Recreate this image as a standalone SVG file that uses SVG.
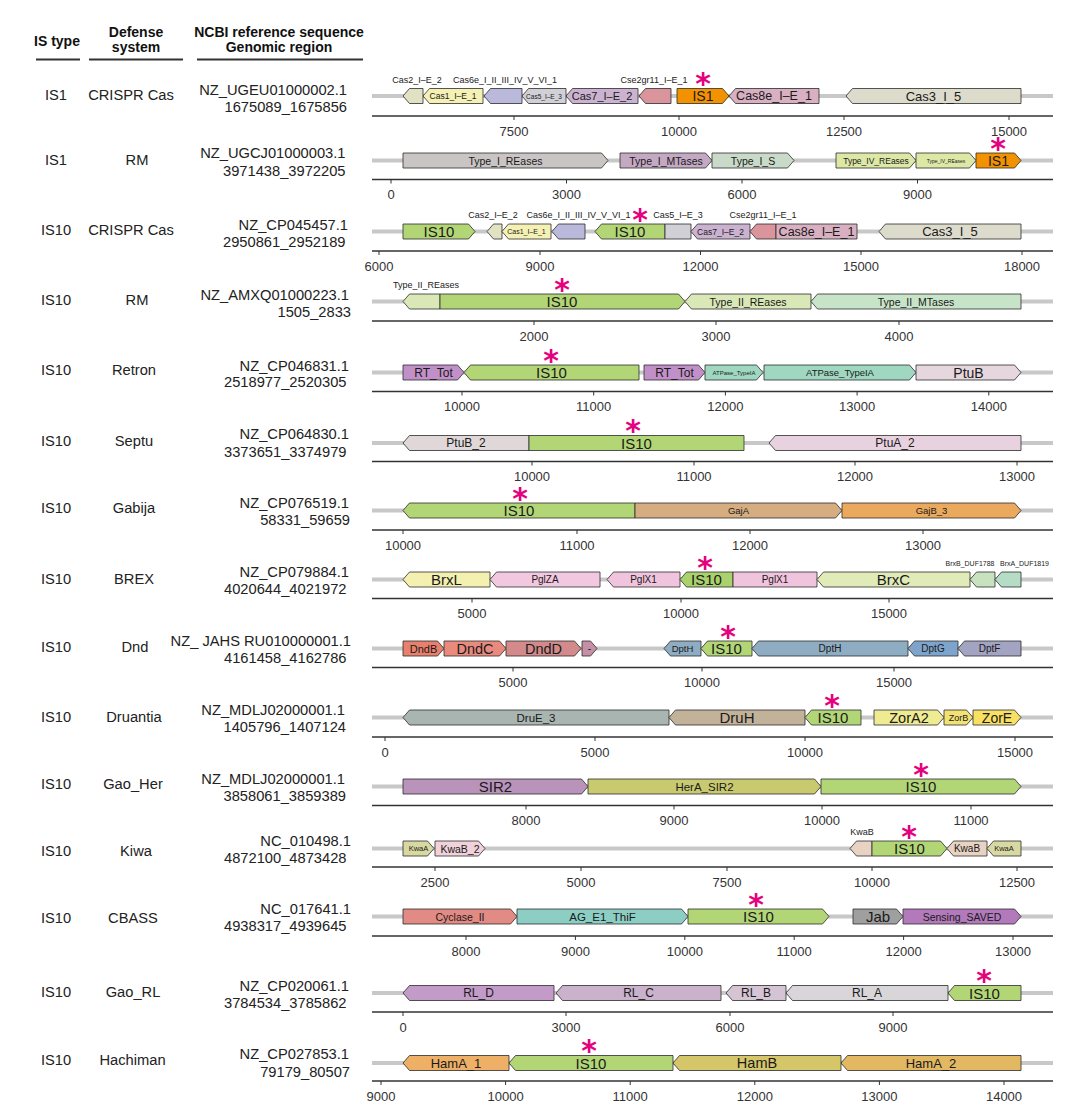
<svg xmlns="http://www.w3.org/2000/svg" width="1080" height="1114" viewBox="0 0 1080 1114">
<style>
text{font-family:"Liberation Sans",Arial,sans-serif}
.bb{stroke:#c8c8c8;stroke-width:4}
.ax{stroke:#333;stroke-width:1.6}
.tk{stroke:#333;stroke-width:1;fill:none}
.tl{font-size:13px;fill:#333;text-anchor:middle}
.gn polygon{stroke:#2b2b2b;stroke-width:0.8}
.lb{text-anchor:middle;dominant-baseline:central;fill:#1a1a1a}
.ab{font-size:9px;fill:#222;text-anchor:middle}
.ab6{font-size:7px;fill:#222;text-anchor:middle}
.as{font-family:"DejaVu Sans",sans-serif;font-weight:bold;font-size:30px;fill:#e5007e;text-anchor:middle}
.lt{font-size:14.7px;fill:#222}
.c1{text-anchor:middle}
.c3{text-anchor:end}
.hd{font-size:14px;font-weight:bold;fill:#111;text-anchor:middle}
.hl{stroke:#333;stroke-width:2}
</style>
<rect width="1080" height="1114" fill="#fff"/>

<g id="header">
<text class="hd" x="57" y="46">IS type</text>
<text class="hd" x="136" y="36.5">Defense</text>
<text class="hd" x="136" y="51.5">system</text>
<text class="hd" x="279" y="36.5">NCBI reference sequence</text>
<text class="hd" x="279" y="51.5">Genomic region</text>
<line class="hl" x1="36" y1="59.5" x2="80" y2="59.5"/>
<line class="hl" x1="89" y1="59.5" x2="183" y2="59.5"/>
<line class="hl" x1="197" y1="59.5" x2="363" y2="59.5"/>
</g>

<g id="left-columns" class="lt">
<text class="c1" x="56" y="100">IS1</text><text class="c1" x="131" y="100">CRISPR Cas</text><text class="c3" x="347" y="95">NZ_UGEU01000002.1</text><text class="c3" x="347" y="111.7">1675089_1675856</text>
<text class="c1" x="56" y="165">IS1</text><text class="c1" x="137" y="165">RM</text><text class="c3" x="345.5" y="158.3">NZ_UGCJ01000003.1</text><text class="c3" x="345.5" y="175.7">3971438_3972205</text>
<text class="c1" x="56" y="235">IS10</text><text class="c1" x="131" y="235">CRISPR Cas</text><text class="c3" x="348" y="230">NZ_CP045457.1</text><text class="c3" x="345.5" y="246.7">2950861_2952189</text>
<text class="c1" x="56" y="305">IS10</text><text class="c1" x="137" y="305">RM</text><text class="c3" x="349" y="300">NZ_AMXQ01000223.1</text><text class="c3" x="351" y="316.7">1505_2833</text>
<text class="c1" x="56" y="375">IS10</text><text class="c1" x="134" y="375">Retron</text><text class="c3" x="349" y="370.7">NZ_CP046831.1</text><text class="c3" x="346.5" y="387">2518977_2520305</text>
<text class="c1" x="56" y="446">IS10</text><text class="c1" x="134" y="446">Septu</text><text class="c3" x="349" y="439.3">NZ_CP064830.1</text><text class="c3" x="346.5" y="456.7">3373651_3374979</text>
<text class="c1" x="56" y="513.3">IS10</text><text class="c1" x="134" y="513.3">Gabija</text><text class="c3" x="349" y="507.7">NZ_CP076519.1</text><text class="c3" x="350" y="525">58331_59659</text>
<text class="c1" x="56" y="584">IS10</text><text class="c1" x="134" y="584">BREX</text><text class="c3" x="349" y="577.3">NZ_CP079884.1</text><text class="c3" x="346.5" y="594.3">4020644_4021972</text>
<text class="c1" x="56" y="651.7">IS10</text><text class="c1" x="135" y="651.7">Dnd</text><text class="c3" x="351" y="646">NZ_ JAHS RU010000001.1</text><text class="c3" x="346.5" y="663.3">4161458_4162786</text>
<text class="c1" x="56" y="721.7">IS10</text><text class="c1" x="134" y="721.7">Druantia</text><text class="c3" x="345" y="715">NZ_MDLJ02000001.1</text><text class="c3" x="346" y="732.3">1405796_1407124</text>
<text class="c1" x="56" y="789">IS10</text><text class="c1" x="133" y="789">Gao_Her</text><text class="c3" x="345" y="784">NZ_MDLJ02000001.1</text><text class="c3" x="346" y="801">3858061_3859389</text>
<text class="c1" x="56" y="855.7">IS10</text><text class="c1" x="136" y="855.7">Kiwa</text><text class="c3" x="351" y="845.7">NC_010498.1</text><text class="c3" x="346.5" y="862.7">4872100_4873428</text>
<text class="c1" x="56" y="923.3">IS10</text><text class="c1" x="133" y="923.3">CBASS</text><text class="c3" x="351" y="914">NC_017641.1</text><text class="c3" x="346.5" y="931">4938317_4939645</text>
<text class="c1" x="56" y="997.3">IS10</text><text class="c1" x="133" y="997.3">Gao_RL</text><text class="c3" x="349" y="991">NZ_CP020061.1</text><text class="c3" x="346.5" y="1008">3784534_3785862</text>
<text class="c1" x="56" y="1065">IS10</text><text class="c1" x="132.5" y="1065">Hachiman</text><text class="c3" x="349" y="1059.3">NZ_CP027853.1</text><text class="c3" x="350" y="1076.7">79179_80507</text>
</g>

<g id="connectors">
<line class="bb" x1="372" y1="96" x2="1053" y2="96"/>
<line class="bb" x1="372" y1="160.5" x2="1053" y2="160.5"/>
<line class="bb" x1="372" y1="231.5" x2="1053" y2="231.5"/>
<line class="bb" x1="372" y1="301.5" x2="1053" y2="301.5"/>
<line class="bb" x1="372" y1="372.5" x2="1053" y2="372.5"/>
<line class="bb" x1="372" y1="443" x2="1053" y2="443"/>
<line class="bb" x1="372" y1="510.5" x2="1053" y2="510.5"/>
<line class="bb" x1="372" y1="579.5" x2="1053" y2="579.5"/>
<line class="bb" x1="372" y1="648.5" x2="1053" y2="648.5"/>
<line class="bb" x1="372" y1="717.5" x2="1053" y2="717.5"/>
<line class="bb" x1="372" y1="786.5" x2="1053" y2="786.5"/>
<line class="bb" x1="372" y1="848.5" x2="1053" y2="848.5"/>
<line class="bb" x1="372" y1="916.5" x2="1053" y2="916.5"/>
<line class="bb" x1="372" y1="993" x2="1053" y2="993"/>
<line class="bb" x1="372" y1="1063" x2="1053" y2="1063"/>
</g>

<g id="axes">
<line class="ax" x1="372" y1="116" x2="1053" y2="116"/><path class="tk" d="M514 116v4M679 116v4M844 116v4M1009 116v4"/>
<text class="tl" x="514" y="135.5">7500</text><text class="tl" x="679" y="135.5">10000</text><text class="tl" x="844" y="135.5">12500</text><text class="tl" x="1009" y="135.5">15000</text>
<line class="ax" x1="372" y1="179.5" x2="1053" y2="179.5"/><path class="tk" d="M391 179.5v4M566.5 179.5v4M742 179.5v4M917.5 179.5v4"/>
<text class="tl" x="391" y="199">0</text><text class="tl" x="566.5" y="199">3000</text><text class="tl" x="742" y="199">6000</text><text class="tl" x="917.5" y="199">9000</text>
<line class="ax" x1="372" y1="251" x2="1053" y2="251"/><path class="tk" d="M379 251v4M540 251v4M700.5 251v4M861 251v4M1022 251v4"/>
<text class="tl" x="379" y="270.5">6000</text><text class="tl" x="540" y="270.5">9000</text><text class="tl" x="700.5" y="270.5">12000</text><text class="tl" x="861" y="270.5">15000</text><text class="tl" x="1022" y="270.5">18000</text>
<line class="ax" x1="372" y1="321" x2="1053" y2="321"/><path class="tk" d="M534 321v4M716 321v4M899 321v4"/>
<text class="tl" x="534" y="340.5">2000</text><text class="tl" x="716" y="340.5">3000</text><text class="tl" x="899" y="340.5">4000</text>
<line class="ax" x1="372" y1="391.5" x2="1053" y2="391.5"/><path class="tk" d="M462 391.5v4M593.7 391.5v4M725.4 391.5v4M857.1 391.5v4M988.8 391.5v4"/>
<text class="tl" x="462" y="411">10000</text><text class="tl" x="593.7" y="411">11000</text><text class="tl" x="725.4" y="411">12000</text><text class="tl" x="857.1" y="411">13000</text><text class="tl" x="988.8" y="411">14000</text>
<line class="ax" x1="372" y1="461.5" x2="1053" y2="461.5"/><path class="tk" d="M532 461.5v4M694 461.5v4M855 461.5v4M1017 461.5v4"/>
<text class="tl" x="532" y="481">10000</text><text class="tl" x="694" y="481">11000</text><text class="tl" x="855" y="481">12000</text><text class="tl" x="1017" y="481">13000</text>
<line class="ax" x1="372" y1="530" x2="1053" y2="530"/><path class="tk" d="M403 530v4M577 530v4M750 530v4M923 530v4"/>
<text class="tl" x="403" y="549.5">10000</text><text class="tl" x="577" y="549.5">11000</text><text class="tl" x="750" y="549.5">12000</text><text class="tl" x="923" y="549.5">13000</text>
<line class="ax" x1="372" y1="598.5" x2="1053" y2="598.5"/><path class="tk" d="M472 598.5v4M681 598.5v4M889 598.5v4"/>
<text class="tl" x="472" y="618">5000</text><text class="tl" x="681" y="618">10000</text><text class="tl" x="889" y="618">15000</text>
<line class="ax" x1="372" y1="667.5" x2="1053" y2="667.5"/><path class="tk" d="M513 667.5v4M702 667.5v4M894 667.5v4"/>
<text class="tl" x="513" y="687">5000</text><text class="tl" x="702" y="687">10000</text><text class="tl" x="894" y="687">15000</text>
<line class="ax" x1="372" y1="737" x2="1053" y2="737"/><path class="tk" d="M385 737v4M595 737v4M805 737v4M1015 737v4"/>
<text class="tl" x="385" y="756.5">0</text><text class="tl" x="595" y="756.5">5000</text><text class="tl" x="805" y="756.5">10000</text><text class="tl" x="1015" y="756.5">15000</text>
<line class="ax" x1="372" y1="805.5" x2="1053" y2="805.5"/><path class="tk" d="M526 805.5v4M674 805.5v4M822 805.5v4M971 805.5v4"/>
<text class="tl" x="526" y="825">8000</text><text class="tl" x="674" y="825">9000</text><text class="tl" x="822" y="825">10000</text><text class="tl" x="971" y="825">11000</text>
<line class="ax" x1="372" y1="867" x2="1053" y2="867"/><path class="tk" d="M435 867v4M581 867v4M727 867v4M872 867v4M1017 867v4"/>
<text class="tl" x="435" y="886.5">2500</text><text class="tl" x="581" y="886.5">5000</text><text class="tl" x="727" y="886.5">7500</text><text class="tl" x="872" y="886.5">10000</text><text class="tl" x="1017" y="886.5">12500</text>
<line class="ax" x1="372" y1="936" x2="1053" y2="936"/><path class="tk" d="M466 936v4M575.4 936v4M684.8 936v4M794.2 936v4M903.6 936v4M1013 936v4"/>
<text class="tl" x="466" y="955.5">8000</text><text class="tl" x="575.4" y="955.5">9000</text><text class="tl" x="684.8" y="955.5">10000</text><text class="tl" x="794.2" y="955.5">11000</text><text class="tl" x="903.6" y="955.5">12000</text><text class="tl" x="1013" y="955.5">13000</text>
<line class="ax" x1="372" y1="1012" x2="1053" y2="1012"/><path class="tk" d="M403 1012v4M566 1012v4M730 1012v4M893 1012v4"/>
<text class="tl" x="403" y="1031.5">0</text><text class="tl" x="566" y="1031.5">3000</text><text class="tl" x="730" y="1031.5">6000</text><text class="tl" x="893" y="1031.5">9000</text>
<line class="ax" x1="372" y1="1081" x2="1053" y2="1081"/><path class="tk" d="M381 1081v4M505.6 1081v4M630.2 1081v4M754.8 1081v4M879.4 1081v4M1004 1081v4"/>
<text class="tl" x="381" y="1100.5">9000</text><text class="tl" x="505.6" y="1100.5">10000</text><text class="tl" x="630.2" y="1100.5">11000</text><text class="tl" x="754.8" y="1100.5">12000</text><text class="tl" x="879.4" y="1100.5">13000</text><text class="tl" x="1004" y="1100.5">14000</text>
</g>

<g id="row1" class="gn">
<g id="r1-cas2"><polygon fill="#e1e2c3" points="423,88.5 409.5,88.5 403,96 409.5,103.5 423,103.5"/></g>
<g id="r1-cas1"><polygon fill="#f5f0b4" points="483,88.5 429.5,88.5 423,96 429.5,103.5 483,103.5"/><text class="lb" x="453" y="96" font-size="8.5">Cas1_I–E_1</text></g>
<g id="r1-cas6e"><polygon fill="#bab9dc" points="522,88.5 490.5,88.5 484,96 490.5,103.5 522,103.5"/></g>
<g id="r1-cas5"><polygon fill="#d0d0d6" points="566,88.5 528.5,88.5 522,96 528.5,103.5 566,103.5"/><text class="lb" x="544" y="96" font-size="6.5">Cas5_I–E_3</text></g>
<g id="r1-cas7"><polygon fill="#ccb2d1" points="638,88.5 572.5,88.5 566,96 572.5,103.5 638,103.5"/><text class="lb" x="602" y="96" font-size="11">Cas7_I–E_2</text></g>
<g id="r1-cse2"><polygon fill="#da949b" points="671,88.5 645.5,88.5 639,96 645.5,103.5 671,103.5"/></g>
<g id="r1-is1"><polygon fill="#f39200" points="677,88.5 722.5,88.5 729,96 722.5,103.5 677,103.5"/><text class="lb" x="703" y="96" font-size="14">IS1</text></g>
<g id="r1-cas8e"><polygon fill="#d8b0c2" points="819,88.5 735.5,88.5 729,96 735.5,103.5 819,103.5"/><text class="lb" x="774" y="96" font-size="12.5">Cas8e_I–E_1</text></g>
<g id="r1-cas3"><polygon fill="#dcdbcc" points="1021,88.5 852.5,88.5 846,96 852.5,103.5 1021,103.5"/><text class="lb" x="933.5" y="96" font-size="13">Cas3_I_5</text></g>
<text class="ab" x="417" y="83">Cas2_I–E_2</text>
<text class="ab" x="505" y="83">Cas6e_I_II_III_IV_V_VI_1</text>
<text class="ab" x="654" y="83">Cse2gr11_I–E_1</text>
<text class="as" x="703" y="94">*</text>
</g>

<g id="row2" class="gn">
<g id="r2-t1re"><polygon fill="#cac5c5" points="403,153 601.5,153 608,160.5 601.5,168 403,168"/><text class="lb" x="505.5" y="160.5" font-size="10.5">Type_I_REases</text></g>
<g id="r2-t1mt"><polygon fill="#c4a9c3" points="620,153 705.5,153 712,160.5 705.5,168 620,168"/><text class="lb" x="666" y="160.5" font-size="10.5">Type_I_MTases</text></g>
<g id="r2-t1s"><polygon fill="#c9dac8" points="712,153 787.5,153 794,160.5 787.5,168 712,168"/><text class="lb" x="753" y="160.5" font-size="10.5">Type_I_S</text></g>
<g id="r2-t4re"><polygon fill="#dde8a6" points="836,153 909.5,153 916,160.5 909.5,168 836,168"/><text class="lb" x="876" y="160.5" font-size="8.5">Type_IV_REases</text></g>
<g id="r2-t4re2"><polygon fill="#dde8a6" points="916,153 969.5,153 976,160.5 969.5,168 916,168"/><text class="lb" x="946" y="160.5" font-size="5">Type_IV_REases</text></g>
<g id="r2-is1"><polygon fill="#f39200" points="976,153 1014.5,153 1021,160.5 1014.5,168 976,168"/><text class="lb" x="998.5" y="160.5" font-size="14">IS1</text></g>
<text class="as" x="998" y="158.5">*</text>
</g>

<g id="row3" class="gn">
<g id="r3-is10a"><polygon fill="#b2d676" points="403,224 468.5,224 475,231.5 468.5,239 403,239"/><text class="lb" x="439" y="231.5" font-size="15">IS10</text></g>
<g id="r3-cas2"><polygon fill="#e1e2c3" points="502,224 493.5,224 487,231.5 493.5,239 502,239"/></g>
<g id="r3-cas1"><polygon fill="#f5f0b4" points="551,224 508.5,224 502,231.5 508.5,239 551,239"/><text class="lb" x="526.5" y="231.5" font-size="7">Cas1_I–E_1</text></g>
<g id="r3-cas6e"><polygon fill="#bab9dc" points="585,224 558.5,224 552,231.5 558.5,239 585,239"/></g>
<g id="r3-is10b"><polygon fill="#b2d676" points="665,224 601.5,224 595,231.5 601.5,239 665,239"/><text class="lb" x="630" y="231.5" font-size="15">IS10</text></g>
<g id="r3-cas5"><polygon fill="#d0d0d6" points="665,224 691,224 691,239 665,239"/></g>
<g id="r3-cas7"><polygon fill="#ccb2d1" points="750,224 697.5,224 691,231.5 697.5,239 750,239"/><text class="lb" x="720.5" y="231.5" font-size="8.5">Cas7_I–E_2</text></g>
<g id="r3-cse2"><polygon fill="#da949b" points="776,224 756.5,224 750,231.5 756.5,239 776,239"/></g>
<g id="r3-cas8e"><polygon fill="#d8b0c2" points="776,224 857,224 857,239 776,239"/><text class="lb" x="816.5" y="231.5" font-size="12.5">Cas8e_I–E_1</text></g>
<g id="r3-cas3"><polygon fill="#dcdbcc" points="1021,224 885.5,224 879,231.5 885.5,239 1021,239"/><text class="lb" x="950" y="231.5" font-size="13">Cas3_I_5</text></g>
<text class="ab" x="493" y="218">Cas2_I–E_2</text>
<text class="ab" x="578.5" y="218">Cas6e_I_II_III_IV_V_VI_1</text>
<text class="ab" x="678" y="218">Cas5_I–E_3</text>
<text class="ab" x="763" y="218">Cse2gr11_I–E_1</text>
<text class="as" x="640" y="229.5">*</text>
</g>

<g id="row4" class="gn">
<g id="r4-t2re-a"><polygon fill="#d9e8b6" points="440,294 409.5,294 403,301.5 409.5,309 440,309"/></g>
<g id="r4-is10"><polygon fill="#b2d676" points="440,294 678.5,294 685,301.5 678.5,309 440,309"/><text class="lb" x="562" y="301.5" font-size="15">IS10</text></g>
<g id="r4-t2re"><polygon fill="#d9e8b6" points="811,294 691.5,294 685,301.5 691.5,309 811,309"/><text class="lb" x="748" y="301.5" font-size="10.5">Type_II_REases</text></g>
<g id="r4-t2mt"><polygon fill="#c8e4c8" points="1021,294 817.5,294 811,301.5 817.5,309 1021,309"/><text class="lb" x="916" y="301.5" font-size="10.5">Type_II_MTases</text></g>
<text class="ab" x="426" y="288">Type_II_REases</text>
<text class="as" x="562" y="299.5">*</text>
</g>

<g id="row5" class="gn">
<g id="r5-rt1"><polygon fill="#c290c8" points="403,365 457.5,365 464,372.5 457.5,380 403,380"/><text class="lb" x="433.5" y="372.5" font-size="12">RT_Tot</text></g>
<g id="r5-is10"><polygon fill="#b2d676" points="639,365 470.5,365 464,372.5 470.5,380 639,380"/><text class="lb" x="551.5" y="372.5" font-size="15">IS10</text></g>
<g id="r5-rt2"><polygon fill="#c290c8" points="644,365 698.5,365 705,372.5 698.5,380 644,380"/><text class="lb" x="674.5" y="372.5" font-size="12">RT_Tot</text></g>
<g id="r5-atp1"><polygon fill="#9fd7c1" points="705,365 756.5,365 763,372.5 756.5,380 705,380"/><text class="lb" x="734" y="372.5" font-size="6">ATPase_TypeIA</text></g>
<g id="r5-atp2"><polygon fill="#9fd7c1" points="764,365 909.5,365 916,372.5 909.5,380 764,380"/><text class="lb" x="840" y="372.5" font-size="9.5">ATPase_TypeIA</text></g>
<g id="r5-ptub"><polygon fill="#e6d7df" points="916,365 1014.5,365 1021,372.5 1014.5,380 916,380"/><text class="lb" x="968.5" y="372.5" font-size="14">PtuB</text></g>
<text class="as" x="551" y="370.5">*</text>
</g>

<g id="row6" class="gn">
<g id="r6-ptub2"><polygon fill="#e0d8d8" points="529,435.5 409.5,435.5 403,443 409.5,450.5 529,450.5"/><text class="lb" x="466" y="443" font-size="12">PtuB_2</text></g>
<g id="r6-is10"><polygon fill="#b2d676" points="529,435.5 744,435.5 744,450.5 529,450.5"/><text class="lb" x="636.5" y="443" font-size="15">IS10</text></g>
<g id="r6-ptua2"><polygon fill="#e8d2e0" points="1021,435.5 775.5,435.5 769,443 775.5,450.5 1021,450.5"/><text class="lb" x="895" y="443" font-size="12">PtuA_2</text></g>
<text class="as" x="633" y="441">*</text>
</g>

<g id="row7" class="gn">
<g id="r7-is10"><polygon fill="#b2d676" points="635,503 409.5,503 403,510.5 409.5,518 635,518"/><text class="lb" x="519" y="510.5" font-size="15">IS10</text></g>
<g id="r7-gaja"><polygon fill="#d5ad80" points="635,503 835.5,503 842,510.5 835.5,518 635,518"/><text class="lb" x="738.5" y="510.5" font-size="9.5">GajA</text></g>
<g id="r7-gajb3"><polygon fill="#eba95e" points="842,503 1014.5,503 1021,510.5 1014.5,518 842,518"/><text class="lb" x="931.5" y="510.5" font-size="9.5">GajB_3</text></g>
<text class="as" x="520" y="508.5">*</text>
</g>

<g id="row8" class="gn">
<g id="r8-brxl"><polygon fill="#f4f0b0" points="490,572 409.5,572 403,579.5 409.5,587 490,587"/><text class="lb" x="446.5" y="579.5" font-size="15">BrxL</text></g>
<g id="r8-pglza"><polygon fill="#f1c8df" points="600,572 496.5,572 490,579.5 496.5,587 600,587"/><text class="lb" x="545" y="579.5" font-size="10">PglZA</text></g>
<g id="r8-pglx1a"><polygon fill="#f0c4dc" points="680,572 613.5,572 607,579.5 613.5,587 680,587"/><text class="lb" x="643.5" y="579.5" font-size="10">PglX1</text></g>
<g id="r8-is10"><polygon fill="#a9d16c" points="733,572 686.5,572 680,579.5 686.5,587 733,587"/><text class="lb" x="706.5" y="579.5" font-size="15">IS10</text></g>
<g id="r8-pglx1b"><polygon fill="#f0c4dc" points="733,572 817,572 817,587 733,587"/><text class="lb" x="775" y="579.5" font-size="10">PglX1</text></g>
<g id="r8-brxc"><polygon fill="#e0ebb8" points="970,572 823.5,572 817,579.5 823.5,587 970,587"/><text class="lb" x="893.5" y="579.5" font-size="15">BrxC</text></g>
<g id="r8-brxb"><polygon fill="#c8e2c0" points="995,572 976.5,572 970,579.5 976.5,587 995,587"/></g>
<g id="r8-brxa"><polygon fill="#b5dcc4" points="1021,572 1001.5,572 995,579.5 1001.5,587 1021,587"/></g>
<text class="ab6" x="970" y="566">BrxB_DUF1788</text>
<text class="ab6" x="1024.5" y="566">BrxA_DUF1819</text>
<text class="as" x="705" y="577.5">*</text>
</g>

<g id="row9" class="gn">
<g id="r9-dndb"><polygon fill="#e8806e" points="403,641 437.5,641 444,648.5 437.5,656 403,656"/><text class="lb" x="423.5" y="648.5" font-size="11">DndB</text></g>
<g id="r9-dndc"><polygon fill="#e98a7e" points="444,641 499.5,641 506,648.5 499.5,656 444,656"/><text class="lb" x="475" y="648.5" font-size="14.5">DndC</text></g>
<g id="r9-dndd"><polygon fill="#d28a8a" points="506,641 574.5,641 581,648.5 574.5,656 506,656"/><text class="lb" x="543.5" y="648.5" font-size="14.5">DndD</text></g>
<g id="r9-dash"><polygon fill="#c590a5" points="582,641 590.5,641 597,648.5 590.5,656 582,656"/><text class="lb" x="589.5" y="648.5" font-size="10">-</text></g>
<g id="r9-dpth-a"><polygon fill="#8eacc2" points="701,641 670.5,641 664,648.5 670.5,656 701,656"/><text class="lb" x="682.5" y="648.5" font-size="9.5">DptH</text></g>
<g id="r9-is10"><polygon fill="#b2d676" points="752,641 707.5,641 701,648.5 707.5,656 752,656"/><text class="lb" x="726.5" y="648.5" font-size="15">IS10</text></g>
<g id="r9-dpth-b"><polygon fill="#8eacc2" points="908,641 758.5,641 752,648.5 758.5,656 908,656"/><text class="lb" x="830" y="648.5" font-size="10">DptH</text></g>
<g id="r9-dptg"><polygon fill="#7fa4cc" points="958,641 914.5,641 908,648.5 914.5,656 958,656"/><text class="lb" x="933" y="648.5" font-size="10">DptG</text></g>
<g id="r9-dptf"><polygon fill="#a3a3c2" points="1021,641 964.5,641 958,648.5 964.5,656 1021,656"/><text class="lb" x="989.5" y="648.5" font-size="10">DptF</text></g>
<text class="as" x="728" y="646.5">*</text>
</g>

<g id="row10" class="gn">
<g id="r10-drue3"><polygon fill="#a9b5b1" points="669,710 409.5,710 403,717.5 409.5,725 669,725"/><text class="lb" x="536" y="717.5" font-size="11.5">DruE_3</text></g>
<g id="r10-druh"><polygon fill="#c2b299" points="805,710 675.5,710 669,717.5 675.5,725 805,725"/><text class="lb" x="737" y="717.5" font-size="15">DruH</text></g>
<g id="r10-is10"><polygon fill="#b2d676" points="861,710 811.5,710 805,717.5 811.5,725 861,725"/><text class="lb" x="833" y="717.5" font-size="15">IS10</text></g>
<g id="r10-zora2"><polygon fill="#eeeb92" points="874,710 937.5,710 944,717.5 937.5,725 874,725"/><text class="lb" x="909" y="717.5" font-size="14.5">ZorA2</text></g>
<g id="r10-zorb"><polygon fill="#f2e274" points="944,710 966.5,710 973,717.5 966.5,725 944,725"/><text class="lb" x="958.5" y="717.5" font-size="9">ZorB</text></g>
<g id="r10-zore"><polygon fill="#f8e064" points="973,710 1014.5,710 1021,717.5 1014.5,725 973,725"/><text class="lb" x="997" y="717.5" font-size="14">ZorE</text></g>
<text class="as" x="832" y="715.5">*</text>
</g>

<g id="row11" class="gn">
<g id="r11-sir2"><polygon fill="#b993b9" points="403,779 581.5,779 588,786.5 581.5,794 403,794"/><text class="lb" x="495.5" y="786.5" font-size="15">SIR2</text></g>
<g id="r11-hera"><polygon fill="#c9c970" points="588,779 814.5,779 821,786.5 814.5,794 588,794"/><text class="lb" x="704.5" y="786.5" font-size="11.5">HerA_SIR2</text></g>
<g id="r11-is10"><polygon fill="#b2d676" points="821,779 1014.5,779 1021,786.5 1014.5,794 821,794"/><text class="lb" x="921" y="786.5" font-size="15">IS10</text></g>
<text class="as" x="921" y="784.5">*</text>
</g>

<g id="row12" class="gn">
<g id="r12-kwaa"><polygon fill="#d8d8a2" points="403,841 427.5,841 434,848.5 427.5,856 403,856"/><text class="lb" x="418.5" y="848.5" font-size="7.5">KwaA</text></g>
<g id="r12-kwab2"><polygon fill="#f2d2da" points="435,841 478.5,841 485,848.5 478.5,856 435,856"/><text class="lb" x="460" y="848.5" font-size="10.5">KwaB_2</text></g>
<g id="r12-kwab-s"><polygon fill="#e8d2c2" points="872,841 856.5,841 850,848.5 856.5,856 872,856"/></g>
<g id="r12-is10"><polygon fill="#b2d676" points="872,841 940.5,841 947,848.5 940.5,856 872,856"/><text class="lb" x="909.5" y="848.5" font-size="15">IS10</text></g>
<g id="r12-kwab"><polygon fill="#e8d2c2" points="987,841 953.5,841 947,848.5 953.5,856 987,856"/><text class="lb" x="967" y="848.5" font-size="10">KwaB</text></g>
<g id="r12-kwaa2"><polygon fill="#d8d8a2" points="1021,841 993.5,841 987,848.5 993.5,856 1021,856"/><text class="lb" x="1004" y="848.5" font-size="7.5">KwaA</text></g>
<text class="ab" x="862" y="835">KwaB</text>
<text class="as" x="909" y="846.5">*</text>
</g>

<g id="row13" class="gn">
<g id="r13-cyc"><polygon fill="#e28a84" points="403,909 510.5,909 517,916.5 510.5,924 403,924"/><text class="lb" x="460" y="916.5" font-size="10.5">Cyclase_II</text></g>
<g id="r13-ag"><polygon fill="#8ccec4" points="517,909 681.5,909 688,916.5 681.5,924 517,924"/><text class="lb" x="602.5" y="916.5" font-size="11.5">AG_E1_ThiF</text></g>
<g id="r13-is10"><polygon fill="#b2d676" points="688,909 822.5,909 829,916.5 822.5,924 688,924"/><text class="lb" x="758.5" y="916.5" font-size="15">IS10</text></g>
<g id="r13-jab"><polygon fill="#9f9f9f" points="853,909 896.5,909 903,916.5 896.5,924 853,924"/><text class="lb" x="878" y="916.5" font-size="15">Jab</text></g>
<g id="r13-saved"><polygon fill="#b27abb" points="903,909 1014.5,909 1021,916.5 1014.5,924 903,924"/><text class="lb" x="962" y="916.5" font-size="10.5">Sensing_SAVED</text></g>
<text class="as" x="756" y="914.5">*</text>
</g>

<g id="row14" class="gn">
<g id="r14-rld"><polygon fill="#c39bc9" points="554,985.5 409.5,985.5 403,993 409.5,1000.5 554,1000.5"/><text class="lb" x="478.5" y="993" font-size="12">RL_D</text></g>
<g id="r14-rlc"><polygon fill="#cbb2cc" points="721,985.5 562.5,985.5 556,993 562.5,1000.5 721,1000.5"/><text class="lb" x="638.5" y="993" font-size="12">RL_C</text></g>
<g id="r14-rlb"><polygon fill="#d4c4d4" points="786,985.5 732.5,985.5 726,993 732.5,1000.5 786,1000.5"/><text class="lb" x="756" y="993" font-size="12">RL_B</text></g>
<g id="r14-rla"><polygon fill="#d9d6da" points="948,985.5 792.5,985.5 786,993 792.5,1000.5 948,1000.5"/><text class="lb" x="867" y="993" font-size="12">RL_A</text></g>
<g id="r14-is10"><polygon fill="#b2d676" points="1021,985.5 954.5,985.5 948,993 954.5,1000.5 1021,1000.5"/><text class="lb" x="984.5" y="993" font-size="15">IS10</text></g>
<text class="as" x="984" y="991">*</text>
</g>

<g id="row15" class="gn">
<g id="r15-hama1"><polygon fill="#eeb066" points="509,1055.5 409.5,1055.5 403,1063 409.5,1070.5 509,1070.5"/><text class="lb" x="456" y="1063" font-size="13">HamA_1</text></g>
<g id="r15-is10"><polygon fill="#b2d676" points="673,1055.5 515.5,1055.5 509,1063 515.5,1070.5 673,1070.5"/><text class="lb" x="591" y="1063" font-size="15">IS10</text></g>
<g id="r15-hamb"><polygon fill="#d6c66a" points="841,1055.5 679.5,1055.5 673,1063 679.5,1070.5 841,1070.5"/><text class="lb" x="757" y="1063" font-size="14.5">HamB</text></g>
<g id="r15-hama2"><polygon fill="#e2b862" points="1021,1055.5 847.5,1055.5 841,1063 847.5,1070.5 1021,1070.5"/><text class="lb" x="931" y="1063" font-size="13">HamA_2</text></g>
<text class="as" x="589" y="1061">*</text>
</g>
</svg>
